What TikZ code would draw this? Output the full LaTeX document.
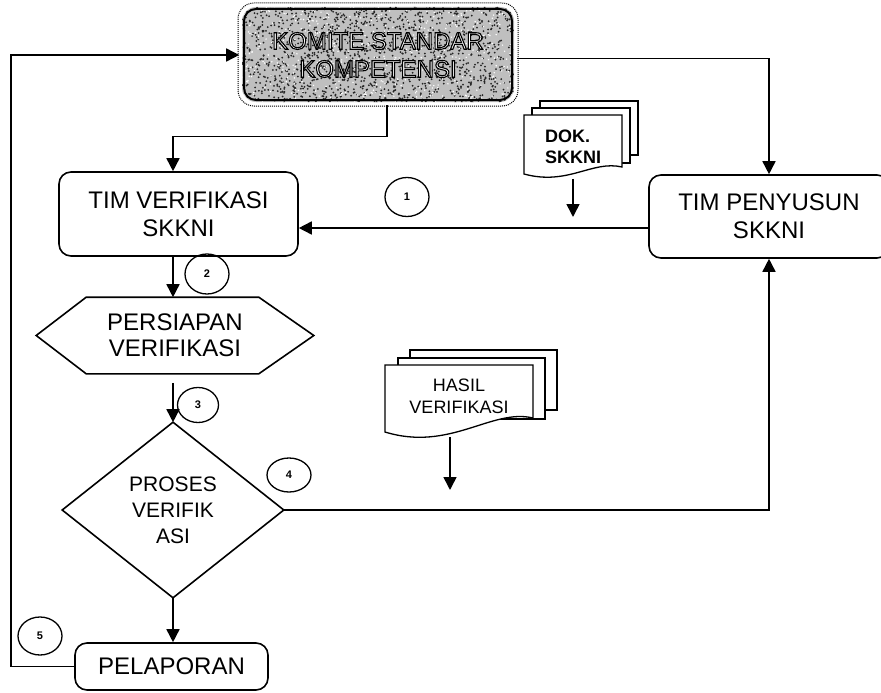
\documentclass[tikz,border=0pt]{standalone}
\usepackage{fontspec}
\setmainfont{Liberation Sans}
\usetikzlibrary{arrows.meta,shapes.geometric}
\newcommand{\outlinetext}[1]{\textcolor{white}{\special{pdf:literal direct 2 Tr 1.1 w 0 G}#1\special{pdf:literal direct 0 Tr}}}
\begin{document}
\begin{tikzpicture}[x=1pt,y=-1pt,line width=1.6pt,
  >={Triangle[length=13pt,width=13pt]},
  box/.style={draw,rounded corners=12pt,inner sep=0pt,align=center,font=\fontsize{24}{28}\selectfont},
  plain/.style={inner sep=0pt,align=center},
  num/.style={draw,ellipse,inner sep=0pt,line width=1.3pt,font=\bfseries\fontsize{11}{11}\selectfont},
  sheet/.style={draw,fill=white,line width=1.3pt},
  wtxt/.style={font=\fontsize{24}{28}\selectfont}]
\useasboundingbox (0,0) rectangle (881,693);

% KOMITE box with textured fill
\fill[gray!50,rounded corners=14pt] (242,7) rectangle (514,102);
\begin{scope}
  \clip[rounded corners=14pt] (242,7) rectangle (514,102);
  \pgfmathsetseed{7}
  \foreach \i in {1,...,1400}{\pgfmathsetmacro\rx{242+272*rnd}\pgfmathsetmacro\ry{7+95*rnd}\fill[black!85] (\rx,\ry) circle[radius=1pt];}
  \foreach \i in {1,...,500}{\pgfmathsetmacro\rx{242+272*rnd}\pgfmathsetmacro\ry{7+95*rnd}\fill[white] (\rx,\ry) circle[radius=0.8pt];}
\end{scope}
\draw[line width=1pt,densely dotted,rounded corners=16pt] (238,3) rectangle (518,106);
\draw[line width=2pt,rounded corners=12pt] (244,9) rectangle (512,100);
\node[plain,minimum width=276pt,minimum height=99pt,wtxt] (kom) at (378,55)
  {\outlinetext{KOMITE STANDAR}\\\outlinetext{KOMPETENSI}};

% main boxes
\node[box,minimum width=239pt,minimum height=84pt] (tv) at (178.5,214) {TIM VERIFIKASI\\SKKNI};
\node[box,minimum width=240pt,minimum height=83pt] (tp) at (769,216.5) {TIM PENYUSUN\\SKKNI};

\node[plain,minimum width=276pt,minimum height=75pt,font=\fontsize{24}{26}\selectfont] (hex) at (175,335.5) {PERSIAPAN\\VERIFIKASI};
\draw (hex.west) -- ([xshift=50pt]hex.north west) -- ([xshift=-55pt]hex.north east) -- (hex.east)
  -- ([xshift=-55pt]hex.south east) -- ([xshift=50pt]hex.south west) -- cycle;

\node[plain,minimum width=220pt,minimum height=174pt,font=\fontsize{21}{26}\selectfont] (dia) at (173,510) {PROSES\\VERIFIK\\ASI};
\draw (dia.north) -- (dia.east) -- (dia.south) -- (dia.west) -- cycle;

\node[box,minimum width=193pt,minimum height=47pt] (pel) at (171.5,666.5) {PELAPORAN};

% DOK. SKKNI document stack
\draw[sheet] (540,101) rectangle (638,155);
\draw[sheet] (532,108) rectangle (630,163);
\draw[sheet] (524,115) -- (622,115) -- (622,167) .. controls (592,160) and (568,186) .. (524,174) -- cycle;
\node[plain,align=left,text width=60pt,minimum height=63pt,font=\bfseries\fontsize{18}{21}\selectfont] (dok) at (575,146.5) {DOK.\\SKKNI};

% HASIL VERIFIKASI document stack
\draw[sheet] (410,350) rectangle (557,410);
\draw[sheet] (398,358) rectangle (545,419);
\draw[sheet] (385,365) -- (533,365) -- (533,418) .. controls (492,408) and (450,452) .. (385,432) -- cycle;
\node[plain,minimum width=148pt,minimum height=80pt,font=\fontsize{18}{22}\selectfont] (has) at (459,396) {HASIL\\VERIFIKASI};

% numbered circles
\node[num,minimum width=44pt,minimum height=39pt] (c1) at (407,197) {1};
\node[num,minimum width=44pt,minimum height=40pt] (c2) at (207,274) {2};
\node[num,minimum width=41pt,minimum height=35pt] (c3) at (198,405) {3};
\node[num,minimum width=44pt,minimum height=34pt] (c4) at (289,475) {4};
\node[num,minimum width=44pt,minimum height=38pt] (c5) at (40,636) {5};

% connectors
\coordinate (cx) at (173,0);
\coordinate (m1) at (0,228);
\coordinate (dokend) at (573,217);
\coordinate (hasend) at (450,490);
\draw[->] ([xshift=9pt]kom.south) -- ++(0,31) -| (tv.north -| cx);
\draw[->] ([yshift=-3.5pt]kom.east) -| (tp.north);
\draw[->] (tp.west |- m1) -- (tv.east |- m1);
\draw[->] (tv.south -| cx) -- (hex.north -| cx);
\draw[->,shorten <=9pt] (hex.south -| cx) -- (dia.north);
\draw[->] (dia.south) -- (pel.north -| dia.south);
\draw[->] (pel.west) -- ++(-63,0) |- (kom.west);
\draw[->] (dia.east) -| (tp.south);
\draw[->] (dok.south -| dokend) -- (dokend);
\draw[->] (has.south -| hasend) -- (hasend);
\end{tikzpicture}
\end{document}
